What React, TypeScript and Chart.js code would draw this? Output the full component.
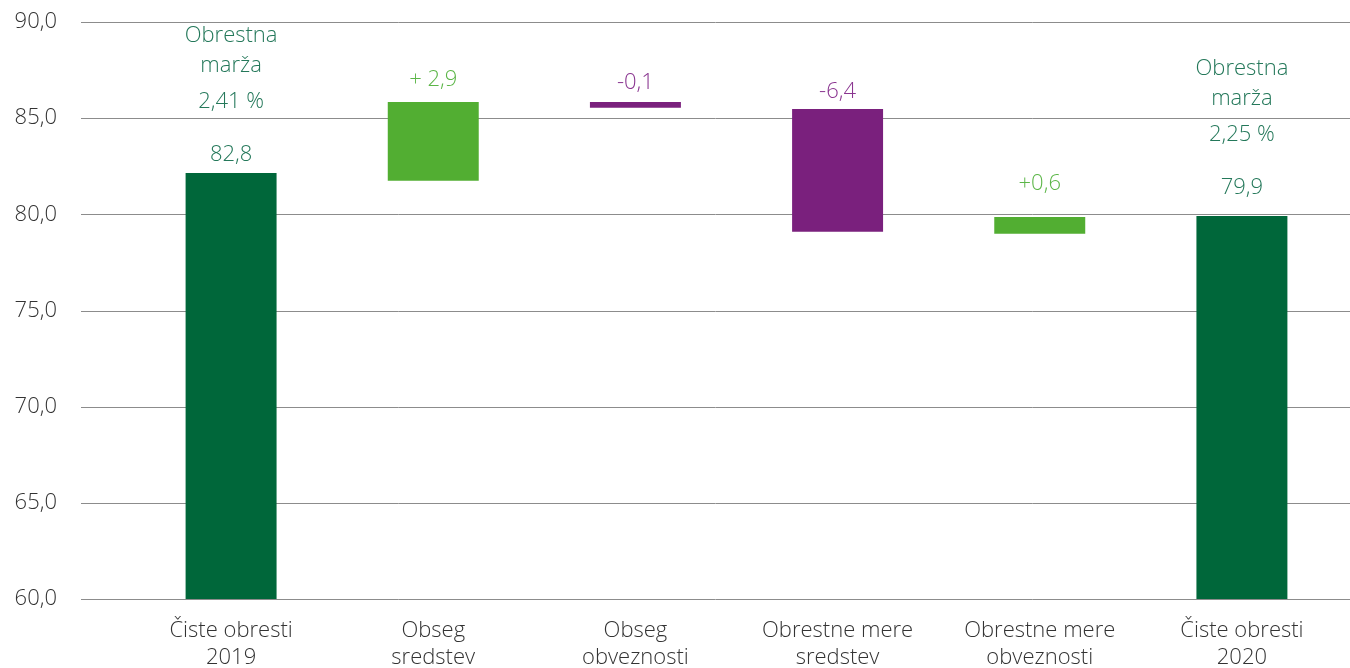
import React, { useEffect, useRef } from "react";
import { Chart, registerables } from "chart.js";

Chart.register(...registerables);

// ---- data ----
const categories: string[][] = [
  ["Čiste obresti", "2019"],
  ["Obseg", "sredstev"],
  ["Obseg", "obveznosti"],
  ["Obrestne mere", "sredstev"],
  ["Obrestne mere", "obveznosti"],
  ["Čiste obresti", "2020"],
];
const barStart = [60, 81.75, 85.54, 79.1, 78.99, 60];
const barEnd = [82.15, 85.84, 85.84, 85.48, 79.86, 79.91];
const valueLabels = ["82,8", "+ 2,9", "-0,1", "-6,4", "+0,6", "79,9"];
const marginLabels: (string[] | null)[] = [
  ["Obrestna", "marža", "2,41 %"],
  null,
  null,
  null,
  null,
  ["Obrestna", "marža", "2,25 %"],
];
const yMin = 60;
const yMax = 90;
const yStep = 5;

// ---- styles ----
const FONT = '"Open Sans", "Noto Sans", "DejaVu Sans", sans-serif';
const DARK = "#00673a";
const LIGHT = "#52ae32";
const PURPLE = "#7a207d";
const barColors = [DARK, LIGHT, PURPLE, PURPLE, LIGHT, DARK];
const textColors = ["#24785a", "#5cb648", "#8a3590", "#8a3590", "#5cb648", "#24785a"];
const labelLift = [18, 22, 19, 17, 33, 28];
const marginOffsets = [119, 89, 53];

const gridPlugin = {
  id: "fullGrid",
  beforeDatasetsDraw(chart: any) {
    const ctx = chart.ctx;
    const y = chart.scales.y;
    ctx.save();
    ctx.strokeStyle = "#8c8c8c";
    ctx.lineWidth = 1;
    for (const t of y.ticks) {
      const py = Math.round(y.getPixelForValue(t.value)) + 0.5;
      ctx.beginPath();
      ctx.moveTo(81, py);
      ctx.lineTo(chart.width, py);
      ctx.stroke();
    }
    ctx.restore();
  },
};

const labelPlugin = {
  id: "valueLabels",
  afterDatasetsDraw(chart: any) {
    const ctx = chart.ctx;
    const meta = chart.getDatasetMeta(0);
    ctx.save();
    ctx.font = `300 22px ${FONT}`;
    ctx.textAlign = "center";
    ctx.textBaseline = "middle";
    meta.data.forEach((el: any, i: number) => {
      const vy = el.y - labelLift[i];
      ctx.fillStyle = textColors[i];
      ctx.fillText(valueLabels[i], el.x, vy);
      const m = marginLabels[i];
      if (m) {
        m.forEach((line, j) => {
          ctx.fillText(line, el.x, vy - marginOffsets[j]);
        });
      }
    });
    ctx.restore();
  },
};

export default function App() {
  const ref = useRef<HTMLCanvasElement | null>(null);

  useEffect(() => {
    document.body.style.margin = "0";
    if (!ref.current) return;
    const chart = new Chart(ref.current, {
      type: "bar",
      data: {
        labels: categories as any,
        datasets: [
          {
            data: barStart.map((s, i) => [s, barEnd[i]]) as any,
            backgroundColor: barColors,
            borderWidth: 0,
            categoryPercentage: 1,
            barPercentage: 0.45,
          },
        ],
      },
      options: {
        animation: false,
        responsive: true,
        maintainAspectRatio: false,
        layout: { padding: { top: 22, right: 7, left: 0, bottom: 0 } },
        plugins: {
          legend: { display: false },
          tooltip: { enabled: false },
        },
        scales: {
          x: {
            grid: { display: false, drawTicks: false },
            border: { display: false },
            ticks: {
              font: { family: FONT, size: 22, weight: 300 as any },
              color: "#333333",
              padding: 19,
              maxRotation: 0,
              autoSkip: false,
            },
            afterFit: (s: any) => {
              s.height = 69;
            },
          },
          y: {
            min: yMin,
            max: yMax,
            grid: {
              display: true,
              drawOnChartArea: false,
              drawTicks: true,
              tickLength: 73,
              color: "rgba(0,0,0,0)",
            },
            border: { display: false },
            ticks: {
              stepSize: yStep,
              font: { family: FONT, size: 22, weight: 300 as any },
              color: "#333333",
              padding: 0,
              callback: (v: any) => Number(v).toFixed(1).replace(".", ","),
            },
            afterFit: (s: any) => {
              s.width = 130;
            },
          },
        },
      },
      plugins: [gridPlugin, labelPlugin],
    });
    return () => chart.destroy();
  }, []);

  return (
    <div style={{ width: 1350, height: 668, position: "relative", background: "#fff" }}>
      <canvas ref={ref} />
    </div>
  );
}
